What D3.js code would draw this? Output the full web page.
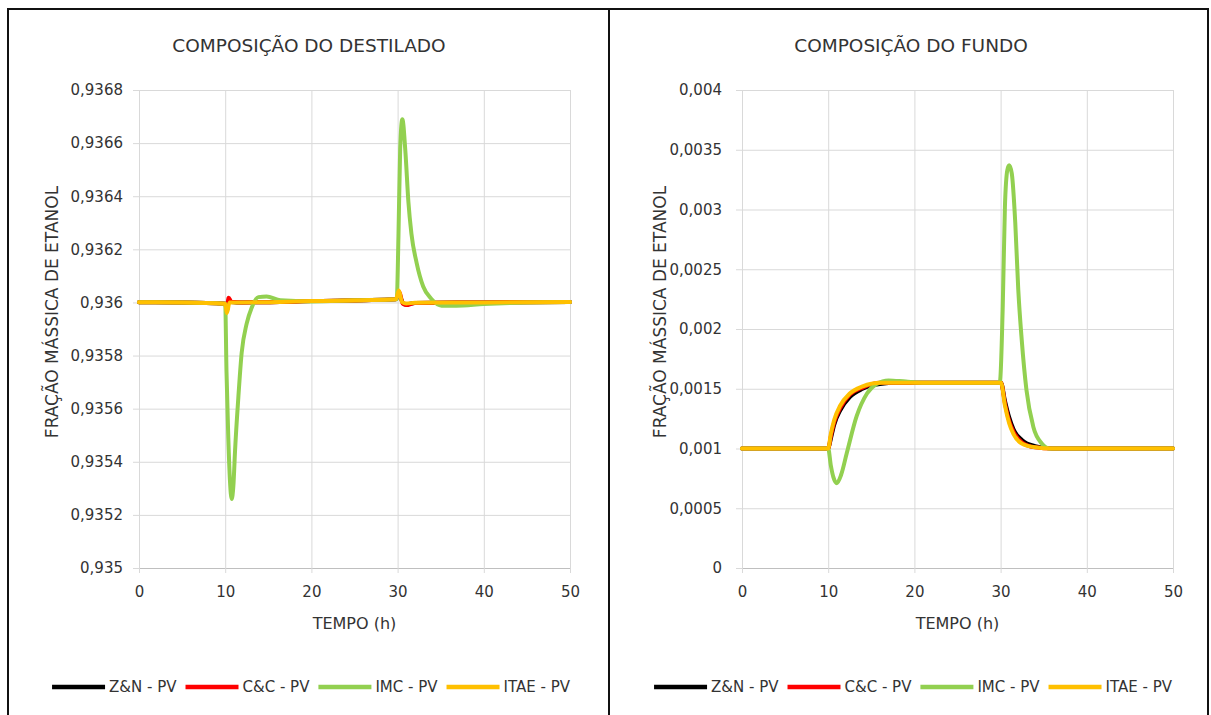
<!DOCTYPE html>
<html>
<head>
<meta charset="utf-8">
<script src="https://cdn.jsdelivr.net/npm/d3@7"></script>
<style>
  body { margin: 0; background: #fff; }
  text { font-family: "DejaVu Sans", sans-serif; fill: #333; }
</style>
</head>
<body>
<div id="chart"></div>
<script>

// ---- data (t in hours, mass fraction) ----
var seriesNames = ["Z&N - PV", "C&C - PV", "IMC - PV", "ITAE - PV"];

var xTicks = [0, 10, 20, 30, 40, 50];
var xTickLabels = ["0", "10", "20", "30", "40", "50"];

// destilado
var destYTicks = [0.935, 0.9352, 0.9354, 0.9356, 0.9358, 0.936, 0.9362, 0.9364, 0.9366, 0.9368];
var destYTickLabels = ["0,935", "0,9352", "0,9354", "0,9356", "0,9358", "0,936", "0,9362", "0,9364", "0,9366", "0,9368"];

var znDest = [[0,0.936001],[5,0.936],[10,0.935995],[10.2,0.93597],[10.4,0.936008],[10.7,0.936002],[12,0.936],
  [20,0.936005],[29.8,0.936012],[30.2,0.93603],[30.5,0.936005],[30.9,0.935992],[32,0.935998],[40,0.936],[50,0.936002]];
var ccDest = [[0,0.936001],[5,0.936],[10,0.935995],[10.2,0.93598],[10.4,0.936018],[10.7,0.936003],[12,0.936],
  [20,0.936005],[29.8,0.936012],[30.2,0.93604],[30.6,0.935995],[31,0.93599],[32,0.935998],[40,0.936],[50,0.936002]];
var imcDest = [[0,0.936001],[5,0.936],[10,0.935995],[10.15,0.93574],[10.36,0.93549],[10.55,0.93533],[10.75,0.93526],
  [10.95,0.93531],[11.14,0.93544],[11.52,0.93564],[11.91,0.93581],[12.49,0.93592],[13.07,0.93598],[13.84,0.93602],
  [14.8,0.936022],[16.4,0.936008],[20,0.936004],[25,0.936008],[29.9,0.936012],[30.1,0.93625],[30.3,0.93658],
  [30.55,0.93669],[30.9,0.93657],[31.25,0.93638],[31.6,0.93626],[32.2,0.93615],[32.97,0.93606],[33.9,0.936014],
  [35.1,0.935988],[36.8,0.935988],[40,0.935994],[45,0.936],[50,0.936002]];
var itaeDest = [[0,0.936001],[5,0.936],[10,0.935995],[10.2,0.93596],[10.5,0.936],[12,0.936],
  [20,0.936005],[29.8,0.936012],[30.15,0.936045],[30.5,0.936002],[31,0.935996],[32,0.935999],[40,0.936],[50,0.936002]];

// fundo
var fundYTicks = [0, 0.0005, 0.001, 0.0015, 0.002, 0.0025, 0.003, 0.0035, 0.004];
var fundYTickLabels = ["0", "0,0005", "0,001", "0,0015", "0,002", "0,0025", "0,003", "0,0035", "0,004"];

var znFund = [[0,0.001],[10,0.001],[10.3,0.00108],[10.7,0.0012],[11.4,0.00132],[12.5,0.00143],[14,0.0015],
  [16,0.00154],[18,0.00155],[30.05,0.00155],[30.5,0.0014],[31,0.00126],[31.5,0.00116],[32.5,0.00107],
  [34,0.00102],[36,0.001],[50,0.001]];
var ccFund = [[0,0.001],[10,0.001],[10.3,0.0011],[10.7,0.00122],[11.4,0.00134],[12.5,0.00145],[14,0.00151],
  [16,0.00155],[30.05,0.00155],[30.5,0.00138],[31,0.00123],[31.5,0.00114],[32.5,0.00105],[34,0.00101],
  [36,0.001],[50,0.001]];
var imcFund = [[0,0.001],[10,0.001],[10.3,0.00086],[10.6,0.00076],[11,0.00071],[11.5,0.00078],[12.15,0.00096],
  [13.3,0.00127],[14.5,0.00146],[15.6,0.00154],[17,0.00157],[19,0.00156],[22,0.00155],[29.9,0.00155],
  [30.25,0.00219],[30.5,0.00302],[30.78,0.00333],[31,0.00337],[31.3,0.0033],[31.7,0.00289],[32.05,0.00233],
  [32.45,0.00191],[33,0.00149],[33.8,0.00118],[34.8,0.00104],[35.7,0.001],[50,0.001]];
var itaeFund = [[0,0.001],[10,0.001],[10.3,0.00112],[10.7,0.00124],[11.4,0.00136],[12.5,0.00146],[14,0.00152],
  [16,0.00155],[30.05,0.00155],[30.5,0.00136],[31,0.00121],[31.5,0.00112],[32.5,0.00104],[34,0.00101],
  [36,0.001],[50,0.001]];

var colors = ["#000000", "#ff0000", "#92d050", "#ffc000"];

// ---- drawing ----
var svg = d3.select("#chart").append("svg")
  .attr("width", 1211)
  .attr("height", 715);

svg.append("rect").attr("width", 1211).attr("height", 715).attr("fill", "#fff");

// the black boxes round the two charts
svg.append("path")
  .attr("d", "M8,715V9H1208V715M609,9V715")
  .attr("fill", "none")
  .attr("stroke", "#111")
  .attr("stroke-width", 2);

Panel = function (_opts) {
  this.opts = _opts;
  this.top = 90;
  this.bottom = 568;
  this.width = 431;

  this.x = d3.scaleLinear().domain([0, 50]).range([_opts.left, _opts.left + this.width]);
  this.y = d3.scaleLinear().domain(_opts.yDomain).range([this.bottom, this.top]);

  this.g = svg.append("g");
  this.drawAxes();
  this.drawLines();
  this.drawLegend();
}

Panel.prototype.drawAxes = function () {
  var vis = this, o = vis.opts;

  // y axis + horizontal gridlines
  var yAxis = d3.axisLeft(vis.y)
    .tickValues(o.yTicks)
    .tickFormat(function (d, i) { return o.yLabels[i]; })
    .tickSizeInner(-vis.width)
    .tickSizeOuter(0)
    .tickPadding(o.labelPad);

  var gy = vis.g.append("g")
    .attr("transform", "translate(" + o.left + ",0)")
    .call(yAxis);
  gy.selectAll(".tick line").attr("x1", -6).attr("stroke", "#d9d9d9");
  gy.select(".domain").attr("stroke", "#bfbfbf");
  gy.selectAll("text").style("font-size", "15px").attr("fill", "#333");

  // x axis + vertical gridlines
  var xAxis = d3.axisBottom(vis.x)
    .tickValues(xTicks)
    .tickFormat(function (d, i) { return xTickLabels[i]; })
    .tickSizeInner(-(vis.bottom - vis.top))
    .tickSizeOuter(0);

  var gx = vis.g.append("g")
    .attr("transform", "translate(0," + vis.bottom + ")")
    .call(xAxis);
  gx.selectAll(".tick line").attr("y1", 5).attr("stroke", "#d9d9d9");
  gx.select(".domain").attr("stroke", "#bfbfbf");
  gx.selectAll("text").attr("y", 29).attr("dy", null)
    .style("font-size", "15px").attr("fill", "#333");

  // titles
  vis.g.append("text")
    .attr("x", o.center).attr("y", 52)
    .attr("text-anchor", "middle")
    .style("font-size", "18.5px")
    .text(o.title);

  vis.g.append("text")
    .attr("x", vis.x(25)).attr("y", 629)
    .attr("text-anchor", "middle")
    .style("font-size", "16px")
    .text("TEMPO (h)");

  vis.g.append("text")
    .attr("transform", "translate(" + o.yTitleX + ",312) rotate(-90)")
    .attr("text-anchor", "middle")
    .attr("dy", "0.35em")
    .style("font-size", "17px")
    .text("FRAÇÃO MÁSSICA DE ETANOL");
}

Panel.prototype.drawLines = function () {
  var vis = this;
  var line = d3.line()
    .x(function (d) { return vis.x(d[0]); })
    .y(function (d) { return vis.y(d[1]); })
    .curve(d3.curveMonotoneX);

  vis.opts.series.forEach(function (s, i) {
    vis.g.append("path")
      .attr("d", line(s))
      .attr("fill", "none")
      .attr("stroke", colors[i])
      .attr("stroke-width", 4)
      .attr("stroke-linejoin", "round")
      .attr("stroke-linecap", "round");
  });
}

Panel.prototype.drawLegend = function () {
  var vis = this;
  var leg = vis.g.append("g");
  var cx = 0;
  seriesNames.forEach(function (name, i) {
    leg.append("line")
      .attr("x1", cx).attr("x2", cx + 53)
      .attr("y1", 0).attr("y2", 0)
      .attr("stroke", colors[i])
      .attr("stroke-width", 4.5);
    var t = leg.append("text")
      .attr("x", cx + 57).attr("y", 0)
      .attr("dy", "0.36em")
      .style("font-size", "15px")
      .text(name);
    cx += 57 + t.node().getComputedTextLength() + 9;
  });
  var w = cx - 9;
  leg.attr("transform", "translate(" + (vis.opts.center - w / 2 + 2) + ",687)");
}

new Panel({
  left: 139, center: 309, labelPad: 16, yTitleX: 52,
  title: "COMPOSIÇÃO DO DESTILADO",
  yDomain: [0.935, 0.9368],
  yTicks: destYTicks, yLabels: destYTickLabels,
  series: [znDest, ccDest, imcDest, itaeDest]
});

new Panel({
  left: 742, center: 911, labelPad: 20, yTitleX: 660,
  title: "COMPOSIÇÃO DO FUNDO",
  yDomain: [0, 0.004],
  yTicks: fundYTicks, yLabels: fundYTickLabels,
  series: [znFund, ccFund, imcFund, itaeFund]
});
</script>
</body>
</html>
